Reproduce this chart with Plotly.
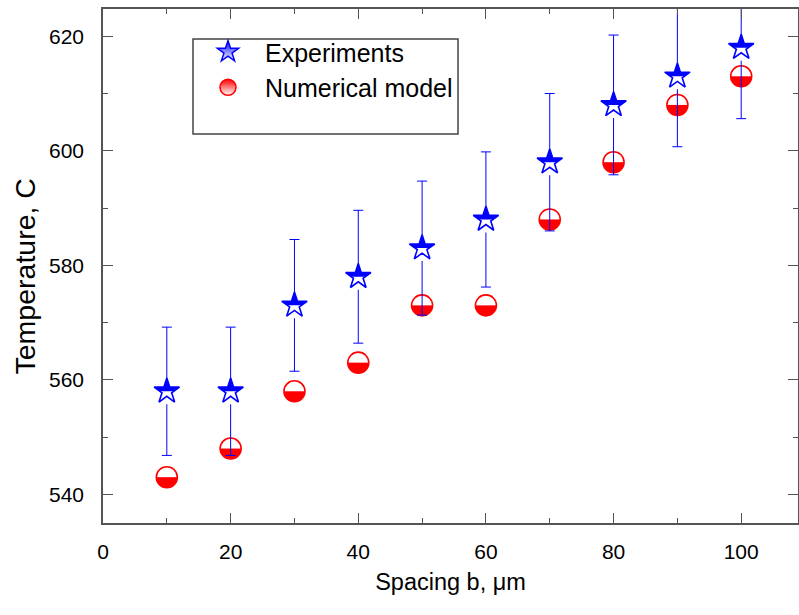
import plotly.graph_objects as go

spacing = [10, 20, 30, 40, 50, 60, 70, 80, 90, 100]
experiments = [558, 558, 573, 578, 583, 588, 598, 608, 613, 618]
exp_error = [11.2, 11.2, 11.5, 11.6, 11.7, 11.8, 12.0, 12.2, 12.3, 12.4]
numerical = [543, 548, 558, 563, 573, 573, 588, 598, 608, 613]

x_ticks = [0, 20, 40, 60, 80, 100]
y_ticks = [540, 560, 580, 600, 620]

BLUE = "#0000ff"
RED = "#ff0000"
FONT = "Liberation Sans, Arial, sans-serif"

fig = go.Figure()

# --- Numerical model: half-filled circles (bottom red, top white)
fig.add_trace(go.Scatter(x=spacing, y=numerical, mode="markers", showlegend=False,
                         hoverinfo="skip",
                         marker=dict(symbol="circle", size=21, color=RED, line=dict(width=0))))
fig.add_trace(go.Scatter(x=spacing, y=numerical, mode="markers", showlegend=False,
                         hoverinfo="skip",
                         marker=dict(symbol="line-ew", size=22, color="white", angle=180, standoff=5.5,
                                     line=dict(width=11, color="white"))))
fig.add_trace(go.Scatter(x=spacing, y=numerical, mode="markers", showlegend=False,
                         name="Numerical model",
                         marker=dict(symbol="circle-open", size=21, color=RED,
                                     line=dict(width=1.6, color=RED))))

# --- Experiments: half-filled stars (top blue, bottom white) with error bars
fig.add_trace(go.Scatter(x=spacing, y=experiments, mode="markers", showlegend=False,
                         name="Experiments",
                         error_y=dict(type="data", array=exp_error, visible=True,
                                      color=BLUE, thickness=1, width=5),
                         marker=dict(symbol="star", size=19, color=BLUE, line=dict(width=0))))
fig.add_trace(go.Scatter(x=spacing, y=experiments, mode="markers", showlegend=False,
                         hoverinfo="skip",
                         marker=dict(symbol="line-ew", size=26, color="white", angle=0, standoff=6.5,
                                     line=dict(width=13, color="white"))))
fig.add_trace(go.Scatter(x=spacing, y=experiments, mode="markers", showlegend=False,
                         hoverinfo="skip",
                         marker=dict(symbol="star-open", size=19, color=BLUE,
                                     line=dict(width=1.6, color=BLUE))))

# --- legend entries
fig.add_trace(go.Scatter(x=[None], y=[None], mode="markers", name="Experiments",
                         marker=dict(symbol="star", size=20, color=BLUE,
                                     gradient=dict(type="vertical", color="white"),
                                     line=dict(width=1.5, color=BLUE))))
fig.add_trace(go.Scatter(x=[None], y=[None], mode="markers", name="Numerical model",
                         marker=dict(symbol="circle", size=20, color=RED,
                                     gradient=dict(type="vertical", color="white"),
                                     line=dict(width=1.5, color=RED))))

axis_common = dict(
    showline=True, linecolor="#555555", linewidth=1.5, mirror="ticks",
    ticks="inside", ticklen=10, tickwidth=1.2, tickcolor="#555555",
    showgrid=False, zeroline=False, automargin=False,
    tickfont=dict(family=FONT, size=21, color="black"),
)

fig.update_xaxes(range=[0, 108.9], tickvals=x_ticks, ticktext=[str(v) for v in x_ticks],
                 minor=dict(dtick=10, ticks="inside", ticklen=5, tickcolor="#555555", tickwidth=1.2),
                 title=dict(text="Spacing b, μm", standoff=12,
                            font=dict(family=FONT, size=23.5, color="black")),
                 ticklabelstandoff=9, **axis_common)
fig.update_yaxes(range=[535, 624.75], tickvals=y_ticks, ticktext=[str(v) for v in y_ticks],
                 minor=dict(dtick=10, ticks="inside", ticklen=5, tickcolor="#555555", tickwidth=1.2),
                 ticklabelstandoff=13, **axis_common)

# y-axis title (placed as in the reference, slightly below the axis centre)
fig.add_annotation(text="Temperature, C", textangle=-90, showarrow=False,
                   xref="paper", yref="paper", x=-0.1122, y=0.4796,
                   xanchor="center", yanchor="middle",
                   font=dict(family=FONT, size=28.5, color="black"))

fig.add_shape(type="rect", xref="paper", yref="paper",
              x0=0.1295, x1=0.5108, y0=0.7568, y1=0.9416,
              line=dict(color="#444444", width=1.5), fillcolor="rgba(0,0,0,0)", layer="above")

fig.update_layout(
    width=799, height=615,
    margin=dict(l=103, r=1, t=9, b=92),
    plot_bgcolor="white", paper_bgcolor="white",
    font=dict(family=FONT, color="black"),
    legend=dict(x=0.1266, y=0.961, xanchor="left", yanchor="top",
                bgcolor="rgba(0,0,0,0)", borderwidth=0, itemwidth=64,
                font=dict(family=FONT, size=25, color="black")),
)

fig.write_html("out.html", config={"displayModeBar": False},
               post_script="document.body.style.margin='0';document.body.style.overflow='hidden';")
